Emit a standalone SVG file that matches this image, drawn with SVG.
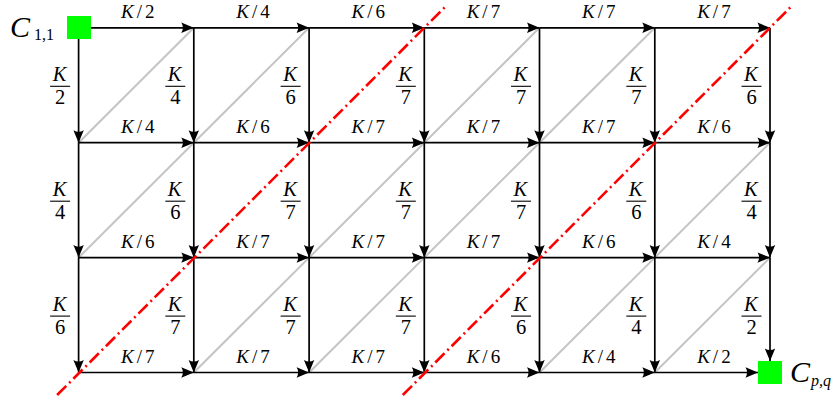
<svg xmlns="http://www.w3.org/2000/svg" width="839" height="403" viewBox="0 0 839 403">
<defs>
<marker id="ah" markerUnits="userSpaceOnUse" markerWidth="13" markerHeight="11" viewBox="0 0 13 11" refX="12.5" refY="5.5" orient="auto" overflow="visible">
<path d="M12.5,5.5 L0,0.3 Q3.2,5.5 0,10.7 Z" fill="#000"/>
</marker>
<style>
.e{stroke:#000;stroke-width:1.7;fill:none;marker-end:url(#ah)}
.g{stroke:#c4c4c4;stroke-width:2;fill:none}
.r{stroke:#ff0000;stroke-width:2.6;fill:none;stroke-dasharray:13 4 2 4}
.bar{stroke:#000;stroke-width:1.1}
text{font-family:"Liberation Serif","Times New Roman",serif;fill:#000}
.hl{font-size:19px;text-anchor:middle}
.fk{font-size:20.5px;text-anchor:middle;font-style:italic}
.fn{font-size:20.5px;text-anchor:middle}
.k{font-style:italic}
.nd{fill:#00ff00}
.cal{font-size:30px;font-style:italic}
.sub{font-size:16px}
</style>
</defs>

<g id="diagonals">
<line class="g" x1="78.6" y1="142.7" x2="193.8" y2="27.8"/>
<line class="g" x1="193.8" y1="142.7" x2="309.1" y2="27.8"/>
<line class="g" x1="424.3" y1="142.7" x2="539.5" y2="27.8"/>
<line class="g" x1="539.5" y1="142.7" x2="654.8" y2="27.8"/>
<line class="g" x1="78.6" y1="257.6" x2="193.8" y2="142.7"/>
<line class="g" x1="309.1" y1="257.6" x2="424.3" y2="142.7"/>
<line class="g" x1="424.3" y1="257.6" x2="539.5" y2="142.7"/>
<line class="g" x1="654.8" y1="257.6" x2="770" y2="142.7"/>
<line class="g" x1="193.8" y1="372.5" x2="309.1" y2="257.6"/>
<line class="g" x1="309.1" y1="372.5" x2="424.3" y2="257.6"/>
<line class="g" x1="539.5" y1="372.5" x2="654.8" y2="257.6"/>
<line class="g" x1="654.8" y1="372.5" x2="770" y2="257.6"/>
</g>

<g id="connectors">
<line class="e" x1="78.6" y1="27.8" x2="193.8" y2="27.8"/>
<line class="e" x1="193.8" y1="27.8" x2="309.1" y2="27.8"/>
<line class="e" x1="309.1" y1="27.8" x2="424.3" y2="27.8"/>
<line class="e" x1="424.3" y1="27.8" x2="539.5" y2="27.8"/>
<line class="e" x1="539.5" y1="27.8" x2="654.8" y2="27.8"/>
<line class="e" x1="654.8" y1="27.8" x2="770" y2="27.8"/>
<line class="e" x1="78.6" y1="142.7" x2="193.8" y2="142.7"/>
<line class="e" x1="193.8" y1="142.7" x2="309.1" y2="142.7"/>
<line class="e" x1="309.1" y1="142.7" x2="424.3" y2="142.7"/>
<line class="e" x1="424.3" y1="142.7" x2="539.5" y2="142.7"/>
<line class="e" x1="539.5" y1="142.7" x2="654.8" y2="142.7"/>
<line class="e" x1="654.8" y1="142.7" x2="770" y2="142.7"/>
<line class="e" x1="78.6" y1="257.6" x2="193.8" y2="257.6"/>
<line class="e" x1="193.8" y1="257.6" x2="309.1" y2="257.6"/>
<line class="e" x1="309.1" y1="257.6" x2="424.3" y2="257.6"/>
<line class="e" x1="424.3" y1="257.6" x2="539.5" y2="257.6"/>
<line class="e" x1="539.5" y1="257.6" x2="654.8" y2="257.6"/>
<line class="e" x1="654.8" y1="257.6" x2="770" y2="257.6"/>
<line class="e" x1="78.6" y1="372.5" x2="193.8" y2="372.5"/>
<line class="e" x1="193.8" y1="372.5" x2="309.1" y2="372.5"/>
<line class="e" x1="309.1" y1="372.5" x2="424.3" y2="372.5"/>
<line class="e" x1="424.3" y1="372.5" x2="539.5" y2="372.5"/>
<line class="e" x1="539.5" y1="372.5" x2="654.8" y2="372.5"/>
<line class="e" x1="654.8" y1="372.5" x2="758" y2="372.5"/>
<line class="e" x1="78.6" y1="27.8" x2="78.6" y2="142.7"/>
<line class="e" x1="78.6" y1="142.7" x2="78.6" y2="257.6"/>
<line class="e" x1="78.6" y1="257.6" x2="78.6" y2="372.5"/>
<line class="e" x1="193.8" y1="27.8" x2="193.8" y2="142.7"/>
<line class="e" x1="193.8" y1="142.7" x2="193.8" y2="257.6"/>
<line class="e" x1="193.8" y1="257.6" x2="193.8" y2="372.5"/>
<line class="e" x1="309.1" y1="27.8" x2="309.1" y2="142.7"/>
<line class="e" x1="309.1" y1="142.7" x2="309.1" y2="257.6"/>
<line class="e" x1="309.1" y1="257.6" x2="309.1" y2="372.5"/>
<line class="e" x1="424.3" y1="27.8" x2="424.3" y2="142.7"/>
<line class="e" x1="424.3" y1="142.7" x2="424.3" y2="257.6"/>
<line class="e" x1="424.3" y1="257.6" x2="424.3" y2="372.5"/>
<line class="e" x1="539.5" y1="27.8" x2="539.5" y2="142.7"/>
<line class="e" x1="539.5" y1="142.7" x2="539.5" y2="257.6"/>
<line class="e" x1="539.5" y1="257.6" x2="539.5" y2="372.5"/>
<line class="e" x1="654.8" y1="27.8" x2="654.8" y2="142.7"/>
<line class="e" x1="654.8" y1="142.7" x2="654.8" y2="257.6"/>
<line class="e" x1="654.8" y1="257.6" x2="654.8" y2="372.5"/>
<line class="e" x1="770" y1="27.8" x2="770" y2="142.7"/>
<line class="e" x1="770" y1="142.7" x2="770" y2="257.6"/>
<line class="e" x1="770" y1="257.6" x2="770" y2="361"/>
</g>

<g id="cut-lines">
<line class="r" x1="57.1" y1="395" x2="447.1" y2="5"/>
<line class="r" x1="402.8" y1="395" x2="792.8" y2="5"/>
</g>

<g id="h-labels">
<text class="hl" x="137.7" y="18"><tspan class="k">K</tspan><tspan dx="3">/</tspan><tspan dx="3">2</tspan></text>
<text class="hl" x="253" y="18"><tspan class="k">K</tspan><tspan dx="3">/</tspan><tspan dx="3">4</tspan></text>
<text class="hl" x="368.2" y="18"><tspan class="k">K</tspan><tspan dx="3">/</tspan><tspan dx="3">6</tspan></text>
<text class="hl" x="483.4" y="18"><tspan class="k">K</tspan><tspan dx="3">/</tspan><tspan dx="3">7</tspan></text>
<text class="hl" x="598.7" y="18"><tspan class="k">K</tspan><tspan dx="3">/</tspan><tspan dx="3">7</tspan></text>
<text class="hl" x="713.9" y="18"><tspan class="k">K</tspan><tspan dx="3">/</tspan><tspan dx="3">7</tspan></text>
<text class="hl" x="137.7" y="132.9"><tspan class="k">K</tspan><tspan dx="3">/</tspan><tspan dx="3">4</tspan></text>
<text class="hl" x="253" y="132.9"><tspan class="k">K</tspan><tspan dx="3">/</tspan><tspan dx="3">6</tspan></text>
<text class="hl" x="368.2" y="132.9"><tspan class="k">K</tspan><tspan dx="3">/</tspan><tspan dx="3">7</tspan></text>
<text class="hl" x="483.4" y="132.9"><tspan class="k">K</tspan><tspan dx="3">/</tspan><tspan dx="3">7</tspan></text>
<text class="hl" x="598.7" y="132.9"><tspan class="k">K</tspan><tspan dx="3">/</tspan><tspan dx="3">7</tspan></text>
<text class="hl" x="713.9" y="132.9"><tspan class="k">K</tspan><tspan dx="3">/</tspan><tspan dx="3">6</tspan></text>
<text class="hl" x="137.7" y="247.8"><tspan class="k">K</tspan><tspan dx="3">/</tspan><tspan dx="3">6</tspan></text>
<text class="hl" x="253" y="247.8"><tspan class="k">K</tspan><tspan dx="3">/</tspan><tspan dx="3">7</tspan></text>
<text class="hl" x="368.2" y="247.8"><tspan class="k">K</tspan><tspan dx="3">/</tspan><tspan dx="3">7</tspan></text>
<text class="hl" x="483.4" y="247.8"><tspan class="k">K</tspan><tspan dx="3">/</tspan><tspan dx="3">7</tspan></text>
<text class="hl" x="598.7" y="247.8"><tspan class="k">K</tspan><tspan dx="3">/</tspan><tspan dx="3">6</tspan></text>
<text class="hl" x="713.9" y="247.8"><tspan class="k">K</tspan><tspan dx="3">/</tspan><tspan dx="3">4</tspan></text>
<text class="hl" x="137.7" y="362.7"><tspan class="k">K</tspan><tspan dx="3">/</tspan><tspan dx="3">7</tspan></text>
<text class="hl" x="253" y="362.7"><tspan class="k">K</tspan><tspan dx="3">/</tspan><tspan dx="3">7</tspan></text>
<text class="hl" x="368.2" y="362.7"><tspan class="k">K</tspan><tspan dx="3">/</tspan><tspan dx="3">7</tspan></text>
<text class="hl" x="483.4" y="362.7"><tspan class="k">K</tspan><tspan dx="3">/</tspan><tspan dx="3">6</tspan></text>
<text class="hl" x="598.7" y="362.7"><tspan class="k">K</tspan><tspan dx="3">/</tspan><tspan dx="3">4</tspan></text>
<text class="hl" x="713.9" y="362.7"><tspan class="k">K</tspan><tspan dx="3">/</tspan><tspan dx="3">2</tspan></text>
</g>

<g id="v-labels">
<text class="fk" x="59.5" y="80.8">K</text><line class="bar" x1="50.1" y1="86.3" x2="70.1" y2="86.3"/><text class="fn" x="60.1" y="104">2</text>
<text class="fk" x="174.7" y="80.8">K</text><line class="bar" x1="165.3" y1="86.3" x2="185.3" y2="86.3"/><text class="fn" x="175.3" y="104">4</text>
<text class="fk" x="290" y="80.8">K</text><line class="bar" x1="280.6" y1="86.3" x2="300.6" y2="86.3"/><text class="fn" x="290.6" y="104">6</text>
<text class="fk" x="405.2" y="80.8">K</text><line class="bar" x1="395.8" y1="86.3" x2="415.8" y2="86.3"/><text class="fn" x="405.8" y="104">7</text>
<text class="fk" x="520.4" y="80.8">K</text><line class="bar" x1="511" y1="86.3" x2="531" y2="86.3"/><text class="fn" x="521" y="104">7</text>
<text class="fk" x="635.7" y="80.8">K</text><line class="bar" x1="626.3" y1="86.3" x2="646.3" y2="86.3"/><text class="fn" x="636.3" y="104">7</text>
<text class="fk" x="750.9" y="80.8">K</text><line class="bar" x1="741.5" y1="86.3" x2="761.5" y2="86.3"/><text class="fn" x="751.5" y="104">6</text>
<text class="fk" x="59.5" y="195.7">K</text><line class="bar" x1="50.1" y1="201.2" x2="70.1" y2="201.2"/><text class="fn" x="60.1" y="218.9">4</text>
<text class="fk" x="174.7" y="195.7">K</text><line class="bar" x1="165.3" y1="201.2" x2="185.3" y2="201.2"/><text class="fn" x="175.3" y="218.9">6</text>
<text class="fk" x="290" y="195.7">K</text><line class="bar" x1="280.6" y1="201.2" x2="300.6" y2="201.2"/><text class="fn" x="290.6" y="218.9">7</text>
<text class="fk" x="405.2" y="195.7">K</text><line class="bar" x1="395.8" y1="201.2" x2="415.8" y2="201.2"/><text class="fn" x="405.8" y="218.9">7</text>
<text class="fk" x="520.4" y="195.7">K</text><line class="bar" x1="511" y1="201.2" x2="531" y2="201.2"/><text class="fn" x="521" y="218.9">7</text>
<text class="fk" x="635.7" y="195.7">K</text><line class="bar" x1="626.3" y1="201.2" x2="646.3" y2="201.2"/><text class="fn" x="636.3" y="218.9">6</text>
<text class="fk" x="750.9" y="195.7">K</text><line class="bar" x1="741.5" y1="201.2" x2="761.5" y2="201.2"/><text class="fn" x="751.5" y="218.9">4</text>
<text class="fk" x="59.5" y="310.6">K</text><line class="bar" x1="50.1" y1="316.1" x2="70.1" y2="316.1"/><text class="fn" x="60.1" y="333.8">6</text>
<text class="fk" x="174.7" y="310.6">K</text><line class="bar" x1="165.3" y1="316.1" x2="185.3" y2="316.1"/><text class="fn" x="175.3" y="333.8">7</text>
<text class="fk" x="290" y="310.6">K</text><line class="bar" x1="280.6" y1="316.1" x2="300.6" y2="316.1"/><text class="fn" x="290.6" y="333.8">7</text>
<text class="fk" x="405.2" y="310.6">K</text><line class="bar" x1="395.8" y1="316.1" x2="415.8" y2="316.1"/><text class="fn" x="405.8" y="333.8">7</text>
<text class="fk" x="520.4" y="310.6">K</text><line class="bar" x1="511" y1="316.1" x2="531" y2="316.1"/><text class="fn" x="521" y="333.8">6</text>
<text class="fk" x="635.7" y="310.6">K</text><line class="bar" x1="626.3" y1="316.1" x2="646.3" y2="316.1"/><text class="fn" x="636.3" y="333.8">4</text>
<text class="fk" x="750.9" y="310.6">K</text><line class="bar" x1="741.5" y1="316.1" x2="761.5" y2="316.1"/><text class="fn" x="751.5" y="333.8">2</text>
</g>

<g id="c11">
<rect class="nd" x="67" y="16" width="24" height="23"/>
<text class="cal" x="10" y="36.5">C</text>
<text class="sub" x="34" y="40">1,1</text>
</g>

<g id="cpq">
<rect class="nd" x="758" y="361" width="24" height="23"/>
<text class="cal" x="790" y="382">C</text>
<text class="sub k" x="811" y="386">p,q</text>
</g>
</svg>
